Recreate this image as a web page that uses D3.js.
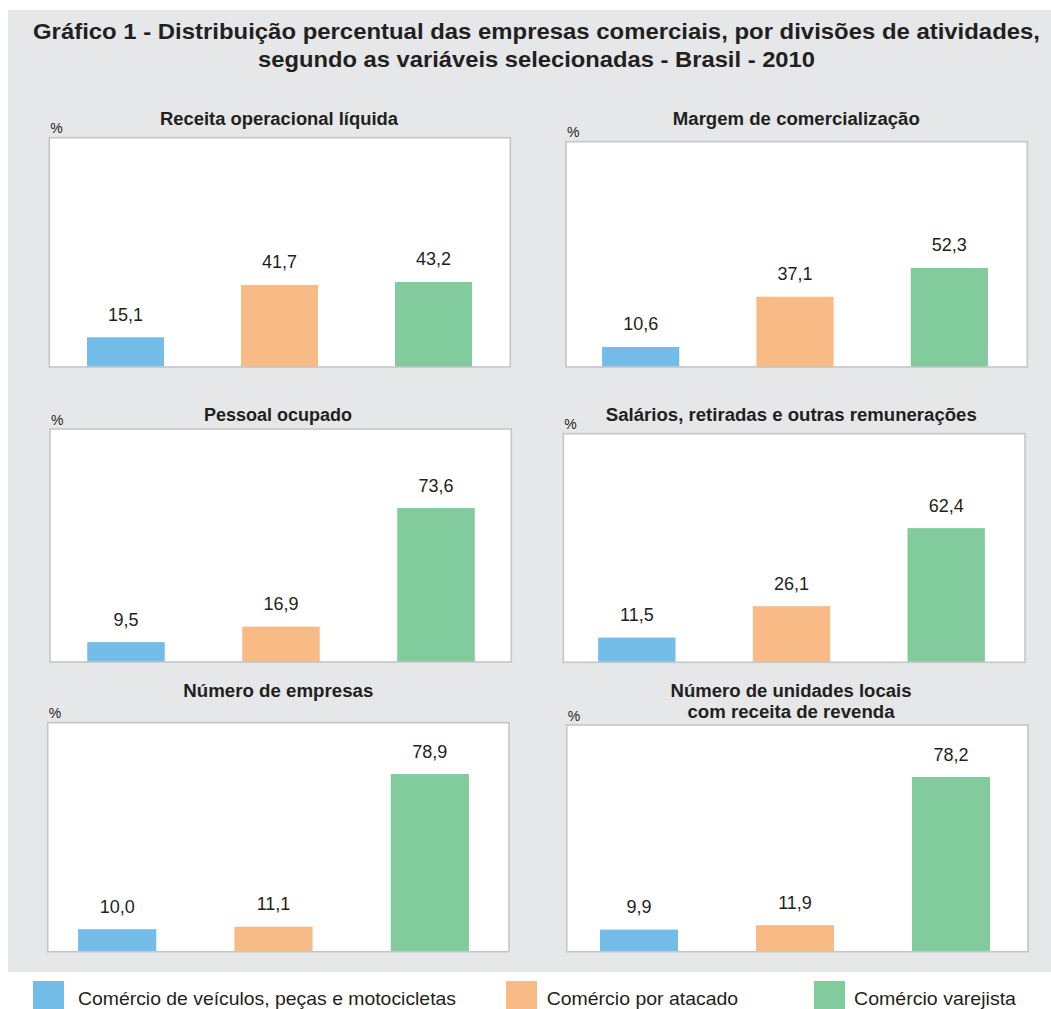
<!DOCTYPE html>
<html>
<head>
<meta charset="utf-8">
<script src="https://cdn.jsdelivr.net/npm/d3@7"></script>
<style>
  html, body { margin: 0; padding: 0; background: #ffffff; }
  svg { display: block; }
  text { font-family: "Liberation Sans", Arial, Helvetica, sans-serif; fill: #231f20; }
</style>
</head>
<body>
<svg id="chart" width="1051" height="1009"></svg>
<script>
// ---- Data ----
const categories = ["Comércio de veículos, peças e motocicletas", "Comércio por atacado", "Comércio varejista"];
const panelTitles = [
  ["Receita operacional líquida"],
  ["Margem de comercialização"],
  ["Pessoal ocupado"],
  ["Salários, retiradas e outras remunerações"],
  ["Número de empresas"],
  ["Número de unidades locais", "com receita de revenda"]
];
const veiculos  = [15.1, 10.6,  9.5, 11.5, 10.0,  9.9];
const atacado   = [41.7, 37.1, 16.9, 26.1, 11.1, 11.9];
const varejista = [43.2, 52.3, 73.6, 62.4, 78.9, 78.2];
const axisMax   = [116.5, 119, 111.4, 106.3, 101.7, 101.5];
const unitLabel = "%";
const mainTitle = ["Gráfico 1 - Distribuição percentual das empresas comerciais, por divisões de atividades,",
                   "segundo as variáveis selecionadas - Brasil - 2010"];

// ---- Styling / layout ----
const colors = ["#74bde8", "#f9bb86", "#81cb9c"];
const layout = [
  {box: [49.3, 137.7, 510.3, 367],   bars: [48.5, 510.5],  tx: 279,   ty: [125],        tw: [238]},
  {box: [566, 141.7, 1027.3, 367],   bars: [563.5, 1026.5],tx: 796.3, ty: [125],        tw: [247]},
  {box: [50, 429, 511.3, 662],       bars: [48.5, 513.5],  tx: 278,   ty: [421],        tw: [148]},
  {box: [563.3, 433.7, 1025, 662.3], bars: [559.5, 1023.5],tx: 791.3, ty: [421],        tw: [371]},
  {box: [47.7, 722.7, 509, 951.7],   bars: [39, 508],      tx: 278.3, ty: [696.7],      tw: [190]},
  {box: [566.7, 725, 1028, 951.7],   bars: [561, 1029],    tx: 791,   ty: [696.7, 718.3], tw: [241, 207]}
];

const locale = d3.formatLocale({decimal: ",", thousands: ".", grouping: [3], currency: ["R$", ""]});
const fmt = locale.format(".1f");

const svg = d3.select("#chart");

// gray background
svg.append("rect").attr("x", 8).attr("y", 10).attr("width", 1043).attr("height", 962)
  .attr("fill", "#e6e7e8");

// main title
svg.selectAll("text.main").data(mainTitle).join("text")
  .attr("class", "main")
  .attr("x", 536.5)
  .attr("y", (d, i) => i === 0 ? 38.5 : 67)
  .attr("text-anchor", "middle")
  .attr("font-size", 21.5)
  .attr("font-weight", "bold")
  .attr("textLength", (d, i) => i === 0 ? 1007 : 557)
  .attr("lengthAdjust", "spacingAndGlyphs")
  .text(d => d);

const x = d3.scaleBand().domain(d3.range(categories.length)).paddingInner(0.5).paddingOuter(0.25);

panelTitles.forEach((titles, p) => {
  const L = layout[p];
  const [x0, y0, x1, y1] = L.box;
  const g = svg.append("g");
  const vals = [veiculos[p], atacado[p], varejista[p]];
  const y = d3.scaleLinear().domain([0, axisMax[p]]).range([y1, y0]);
  const xs = x.copy().range(L.bars);

  g.append("rect").attr("x", x0).attr("y", y0).attr("width", x1 - x0).attr("height", y1 - y0)
    .attr("fill", "#ffffff");

  g.selectAll("rect.bar").data(vals).join("rect")
    .attr("class", "bar")
    .attr("x", (d, i) => xs(i))
    .attr("width", xs.bandwidth())
    .attr("y", d => y(d))
    .attr("height", d => y(0) - y(d))
    .attr("fill", (d, i) => colors[i]);

  g.selectAll("text.val").data(vals).join("text")
    .attr("class", "val")
    .attr("x", (d, i) => xs(i) + xs.bandwidth() / 2)
    .attr("y", d => y(d) - 16.5)
    .attr("text-anchor", "middle")
    .attr("font-size", 18)
    .text(d => fmt(d));

  g.append("rect").attr("x", x0).attr("y", y0).attr("width", x1 - x0).attr("height", y1 - y0)
    .attr("fill", "none").attr("stroke", "#c5c6c8").attr("stroke-width", 1.6);

  g.selectAll("text.ptitle").data(titles).join("text")
    .attr("class", "ptitle")
    .attr("x", L.tx)
    .attr("y", (d, i) => L.ty[i])
    .attr("text-anchor", "middle")
    .attr("font-size", 18)
    .attr("font-weight", "bold")
    .attr("textLength", (d, i) => L.tw[i])
    .attr("lengthAdjust", "spacingAndGlyphs")
    .text(d => d);

  g.append("text")
    .attr("x", x0 + 1)
    .attr("y", y0 - 4.5)
    .attr("font-size", 14)
    .attr("fill", "#3a3a3a")
    .text(unitLabel);
});

// legend
const legX = [33, 506, 814];
const legTX = [45, 40.7, 40];
const legTW = [378, 191.5, 162];
const leg = svg.selectAll("g.leg").data(categories).join("g").attr("class", "leg")
  .attr("transform", (d, i) => `translate(${legX[i]},981)`);
leg.append("rect").attr("width", 31).attr("height", 30).attr("fill", (d, i) => colors[i]);
leg.append("text").attr("x", (d, i) => legTX[i]).attr("y", 24).attr("font-size", 19)
  .attr("textLength", (d, i) => legTW[i]).attr("lengthAdjust", "spacingAndGlyphs")
  .text(d => d);
</script>
</body>
</html>
